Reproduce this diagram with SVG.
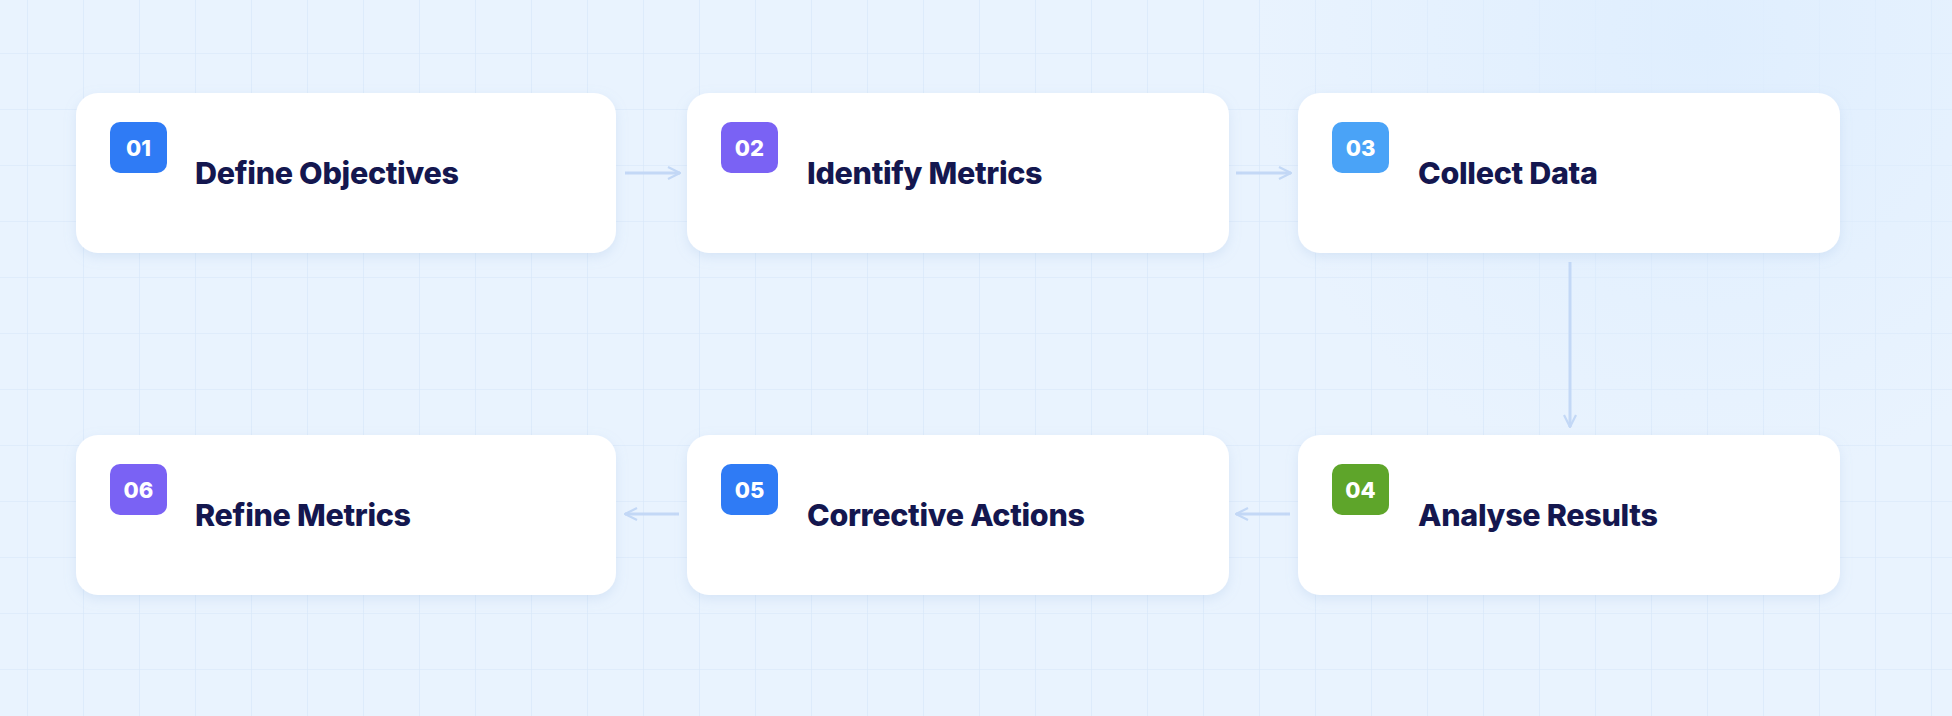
<svg xmlns="http://www.w3.org/2000/svg" width="1952" height="716" viewBox="0 0 1952 716">
<defs>
<pattern id="grid" x="27" y="-3" width="56" height="56" patternUnits="userSpaceOnUse">
<path d="M0 0V56M0 0H56" fill="none" stroke="#d6e6f8" stroke-width="1.2"/>
</pattern>
<radialGradient id="glow" cx="1700" cy="40" r="450" gradientUnits="userSpaceOnUse">
<stop offset="0" stop-color="#dfeefe"/><stop offset="1" stop-color="#dfeefe" stop-opacity="0"/>
</radialGradient>
<filter id="sh" x="-10%" y="-20%" width="120%" height="150%">
<feDropShadow dx="0" dy="4" stdDeviation="6" flood-color="#9bb8e0" flood-opacity="0.25"/>
</filter>
<marker id="ah" viewBox="0 0 14 14" refX="13" refY="7" markerWidth="14" markerHeight="14" markerUnits="userSpaceOnUse" orient="auto">
<path d="M1 1L13 7L1 13" fill="none" stroke="#c3d8f6" stroke-width="2.2"/>
</marker>
</defs>
<style>
.card{fill:#fff;filter:url(#sh)}
.num{font:800 22px Inter,"Liberation Sans",sans-serif;fill:#fff;text-anchor:middle}
.title{font:800 30.5px Inter,"Liberation Sans",sans-serif;fill:#14174f;letter-spacing:-0.3px}
.conn{stroke:#c3d8f6;stroke-width:3;fill:none;marker-end:url(#ah)}
</style>
<rect width="1952" height="716" fill="#e9f3fe"/>
<rect width="1952" height="716" fill="url(#grid)"/>
<rect width="1952" height="716" fill="url(#glow)"/>
<g id="connectors">
<line class="conn" x1="625" y1="173" x2="680" y2="173"/>
<line class="conn" x1="1236" y1="173" x2="1291" y2="173"/>
<line class="conn" x1="1570" y1="262" x2="1570" y2="427"/>
<line class="conn" x1="1290" y1="514" x2="1236" y2="514"/>
<line class="conn" x1="679" y1="514" x2="625" y2="514"/>
</g>
<g id="n1"><rect class="card" x="76" y="93" width="540" height="160" rx="22"/><rect x="110" y="122" width="57" height="51" rx="10" fill="#2f7bf5"/><text class="num" x="138.5" y="156">01</text><text class="title" x="195" y="184">Define Objectives</text></g>
<g id="n2"><rect class="card" x="687" y="93" width="542" height="160" rx="22"/><rect x="721" y="122" width="57" height="51" rx="10" fill="#7a62f4"/><text class="num" x="749.5" y="156">02</text><text class="title" x="807" y="184">Identify Metrics</text></g>
<g id="n3"><rect class="card" x="1298" y="93" width="542" height="160" rx="22"/><rect x="1332" y="122" width="57" height="51" rx="10" fill="#4aa3f7"/><text class="num" x="1360.5" y="156">03</text><text class="title" x="1418" y="184">Collect Data</text></g>
<g id="n4"><rect class="card" x="1298" y="435" width="542" height="160" rx="22"/><rect x="1332" y="464" width="57" height="51" rx="10" fill="#5ea52a"/><text class="num" x="1360.5" y="498">04</text><text class="title" x="1418" y="526">Analyse Results</text></g>
<g id="n5"><rect class="card" x="687" y="435" width="542" height="160" rx="22"/><rect x="721" y="464" width="57" height="51" rx="10" fill="#2f7bf5"/><text class="num" x="749.5" y="498">05</text><text class="title" x="807" y="526">Corrective Actions</text></g>
<g id="n6"><rect class="card" x="76" y="435" width="540" height="160" rx="22"/><rect x="110" y="464" width="57" height="51" rx="10" fill="#7a62f4"/><text class="num" x="138.5" y="498">06</text><text class="title" x="195" y="526">Refine Metrics</text></g>
</svg>
